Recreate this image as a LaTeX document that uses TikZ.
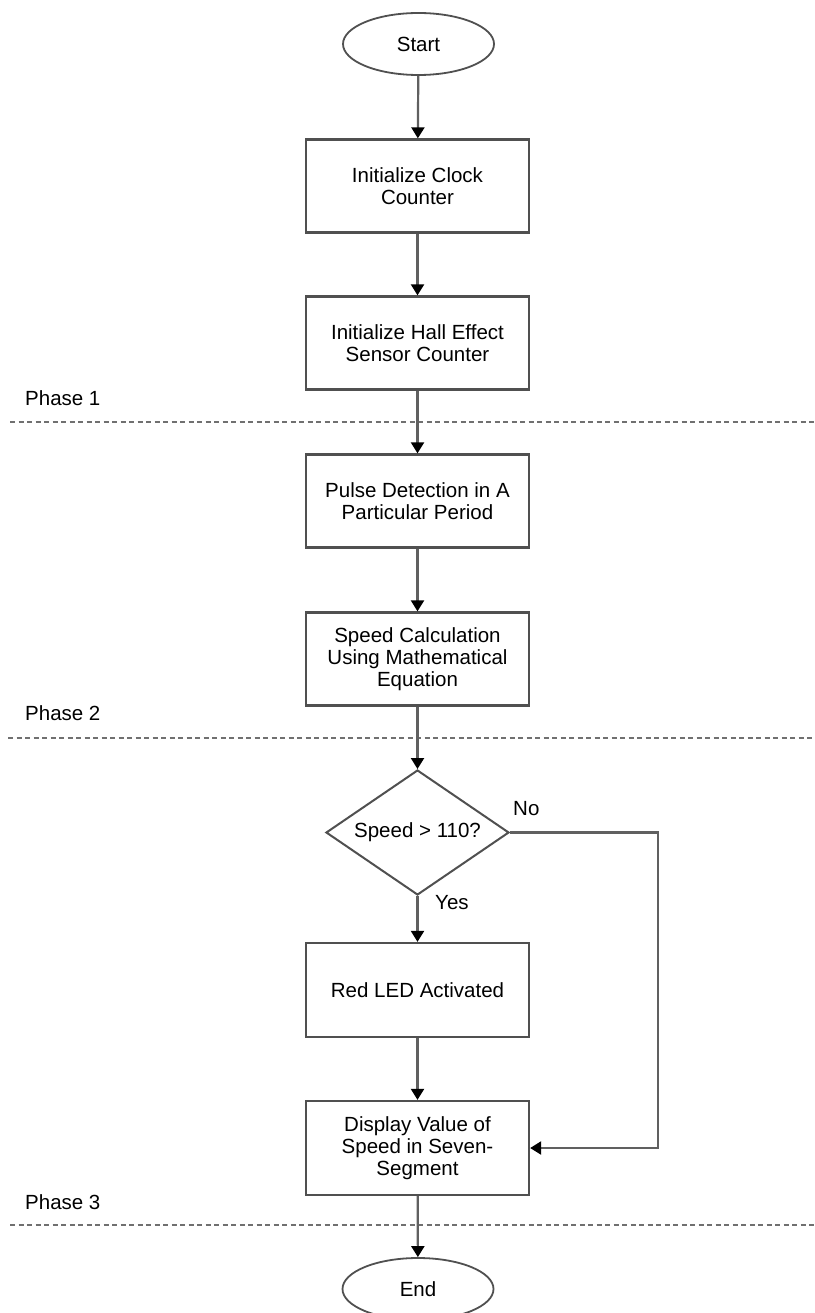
\documentclass[tikz,border=0pt]{standalone}
\usepackage{fontspec}
\setmainfont{Liberation Sans}
\usetikzlibrary{shapes.geometric,arrows.meta}
\definecolor{edge}{HTML}{505050}
\definecolor{conn}{HTML}{606060}
\definecolor{dash}{HTML}{707070}
\tikzset{
  base/.style={draw=edge,line width=2.3pt,fill=white,inner sep=0pt,
    font=\fontsize{20.5}{21.7}\selectfont,align=center,text=black},
  proc/.style={base,rectangle,minimum width=223pt,minimum height=93pt},
  term/.style={base,ellipse,minimum width=151pt,minimum height=62pt,line width=1.8pt},
  decision/.style={base,diamond,minimum width=183pt,minimum height=125pt,line width=2pt},
  conn/.style={draw=conn,line width=2.2pt,-{Triangle[width=13pt,length=11pt,color=black]}},
  phase/.style={draw=dash,line width=1.6pt,dash pattern=on 5pt off 3.5pt},
  lbl/.style={font=\fontsize{20.5}{21.7}\selectfont,text=black,inner sep=0pt}
}
\begin{document}
\begin{tikzpicture}[x=1pt,y=-1pt]
\useasboundingbox (0,0) rectangle (814,1313);
\node[term] (start) at (418.5,44) {Start};
\node[proc] (b1) at (417.5,186) {Initialize Clock\\Counter};
\node[proc] (b2) at (417.5,343) {Initialize Hall Effect\\Sensor Counter};
\node[proc] (b3) at (417.5,501) {Pulse Detection in A\\Particular Period};
\node[proc] (b4) at (417.5,659) {Speed Calculation\\Using Mathematical\\Equation};
\node[decision] (d) at (417.5,832.5) {};
\node[lbl] (dt) at (d.center) {Speed > 110?};
\node[proc,minimum height=94pt] (b5) at (417.5,990) {Red LED Activated};
\node[proc,minimum height=94pt] (b6) at (417.5,1148) {Display Value of\\Speed in Seven-\\Segment};
\node[term] (end) at (418,1289) {End};

\coordinate (p1a) at (10,422); \coordinate (p1b) at (814,422);
\coordinate (p2a) at (8,738); \coordinate (p2b) at (814,738);
\coordinate (p3a) at (10,1225); \coordinate (p3b) at (814,1225);
\draw[phase] (p1a) -- (p1b);
\draw[phase] (p2a) -- (p2b);
\draw[phase] (p3a) -- (p3b);
\node[lbl,anchor=west] (ph1) at (25,398) {Phase 1};
\node[lbl,anchor=west] (ph2) at (25,713) {Phase 2};
\node[lbl,anchor=west] (ph3) at (25,1202) {Phase 3};

\draw[conn] (start) -- (b1);
\draw[conn] (b1) -- (b2);
\draw[conn] (b2) -- (b3);
\draw[conn] (b3) -- (b4);
\draw[conn] (b4) -- (d);
\draw[conn] (d) -- (b5);
\draw[conn] (b5) -- (b6);
\draw[conn] (b6) -- (end);
\coordinate (nr) at (658,832.5);
\draw[conn] (d.east) -- (nr) |- (b6.east);
\node[lbl,anchor=west] (no) at (513,809) {No};
\node[lbl,anchor=west] (yes) at (435,903) {Yes};
\end{tikzpicture}
\end{document}
